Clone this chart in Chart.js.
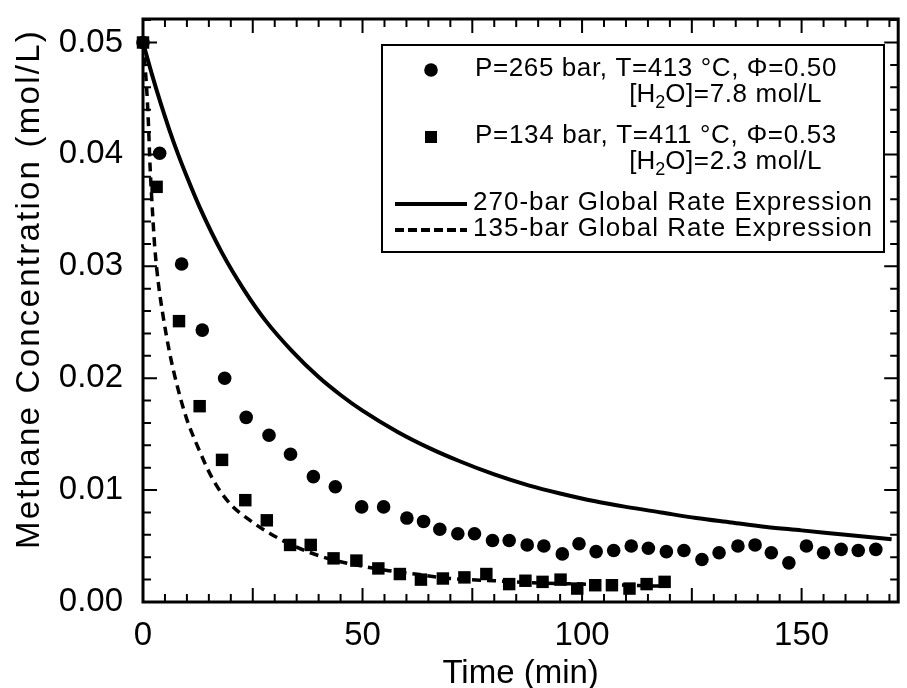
<!DOCTYPE html>
<html>
<head>
<meta charset="utf-8">
<script src="https://cdn.jsdelivr.net/npm/chart.js@4/dist/chart.umd.min.js"></script>
<style>
  html, body { margin: 0; padding: 0; background: #fff; }
  #wrap { width: 907px; height: 688px; }
</style>
</head>
<body>
<div id="wrap"><canvas id="methaneChart" width="907" height="688"></canvas></div>
<script>
// 265 bar run (circles)
const timeHigh = [0, 3.8, 8.8, 13.5, 18.6, 23.5, 28.7, 33.6, 38.8, 43.8, 49.8, 54.8, 60.1, 63.9, 67.6, 71.7, 75.5, 79.6, 83.4, 87.5,
  91.3, 95.5, 99.3, 103.2, 107.2, 111.2, 115.1, 119.2, 123.2, 127.3, 131.2, 135.5, 139.4, 143.1, 147.1, 151.1, 155.0, 159.0, 162.9, 166.9];
const concHigh = [0.0500, 0.0401, 0.0302, 0.0243, 0.0200, 0.0165, 0.0149, 0.0132, 0.0112, 0.0103, 0.0085, 0.0085, 0.0075, 0.0072, 0.0065, 0.0061, 0.0061, 0.0055, 0.0055, 0.0051,
  0.0050, 0.0043, 0.0052, 0.0045, 0.0046, 0.0050, 0.0048, 0.0045, 0.0046, 0.0038, 0.0044, 0.0050, 0.0051, 0.0044, 0.0035, 0.0050, 0.0044, 0.0047, 0.0046, 0.0047];

// 134 bar run (squares)
const timeLow = [0, 3.1, 8.2, 12.9, 18.0, 23.3, 28.2, 33.5, 38.2, 43.4, 48.6, 53.6, 58.5, 63.3, 68.3, 73.2, 78.2, 83.4, 87.1, 91.0,
  95.1, 98.9, 103.0, 106.8, 110.8, 114.7, 118.8];
const concLow = [0.0500, 0.0371, 0.0251, 0.0175, 0.0127, 0.0091, 0.0073, 0.0051, 0.0051, 0.0039, 0.0037, 0.0030, 0.0025, 0.0020, 0.0021, 0.0022, 0.0025, 0.0016, 0.0019, 0.0018,
  0.0020, 0.0012, 0.0015, 0.0015, 0.0012, 0.0016, 0.0018];

// 270-bar global rate expression (solid)
const rateHighTime = [0, 2, 4, 6, 8, 10, 13, 18, 23, 28, 34, 40, 45, 50, 58, 65, 72, 80, 88, 95, 103, 110, 118, 126, 134, 142, 150, 160, 170.5];
const rateHighConc = [0.0500, 0.0472, 0.0446, 0.0422, 0.0400, 0.0380, 0.0352, 0.0312, 0.0279, 0.0251, 0.0224, 0.0201, 0.0185, 0.0171, 0.0152, 0.0138, 0.0126, 0.0114, 0.0104, 0.0097,
  0.0090, 0.0085, 0.0080, 0.0075, 0.0071, 0.0067, 0.0064, 0.0060, 0.0056];

// 135-bar global rate expression (dashed)
const rateLowTime = [0, 0.8, 1.2, 1.6, 2.0, 2.7, 3.5, 4.6, 6.1, 8, 10, 12, 16, 20, 24, 29, 35, 42, 50, 56, 62, 70, 80, 90, 100, 110, 120];
const rateLowConc = [0.0500, 0.0461, 0.0431, 0.0390, 0.0360, 0.0316, 0.0285, 0.0255, 0.0222, 0.0190, 0.0163, 0.0143, 0.0109, 0.0087, 0.0074, 0.0061, 0.0049, 0.0039, 0.0032, 0.0028,
  0.0025, 0.0021, 0.0019, 0.0017, 0.0016, 0.0015, 0.0014];

const xTickValues = [0, 50, 100, 150];
const yTickValues = [0, 0.01, 0.02, 0.03, 0.04, 0.05];

const FONT = '"Liberation Sans", Arial, Helvetica, sans-serif';

function pairs(xs, ys) {
  return xs.map((x, i) => ({ x: x, y: ys[i] }));
}

// draw text stretched to a given width (the scanned font runs wide)
function fitText(ctx, text, x, y, width) {
  ctx.letterSpacing = '0px';
  const w = ctx.measureText(text).width;
  ctx.letterSpacing = ((width - w) / text.length) + 'px';
  ctx.fillText(text, x, y);
  ctx.letterSpacing = '0px';
}

// [H2O]=... line, right aligned at xr
function waterText(ctx, value, xr, y) {
  const big = '26px ' + FONT, small = '18px ' + FONT;
  const a = '[H', b = '2', c = 'O]=' + value + ' mol/L';
  ctx.font = big;
  const wa = ctx.measureText(a).width;
  const wc = ctx.measureText(c).width + c.length * 0.6;
  ctx.font = small;
  const wb = ctx.measureText(b).width;
  let x = xr - (wa + wb + wc);
  ctx.textAlign = 'left';
  ctx.font = big;
  ctx.fillText(a, x, y);
  x += wa;
  ctx.font = small;
  ctx.fillText(b, x, y + 8);
  x += wb;
  ctx.font = big;
  ctx.letterSpacing = '0.6px';
  ctx.fillText(c, x, y);
  ctx.letterSpacing = '0px';
}

const framePlugin = {
  id: 'frame',
  afterDraw(chart) {
    const { ctx, chartArea: a, scales: { x, y } } = chart;
    ctx.save();
    ctx.strokeStyle = '#000';
    ctx.fillStyle = '#000';

    // inward ticks on all four sides
    ctx.lineWidth = 2;
    ctx.beginPath();
    for (let m = 0; m <= x.max; m += 5) {
      const px = x.getPixelForValue(m);
      const len = m % 25 === 0 ? 14 : 8;
      ctx.moveTo(px, a.bottom); ctx.lineTo(px, a.bottom - len);
      ctx.moveTo(px, a.top); ctx.lineTo(px, a.top + len);
    }
    for (let i = 0; i * 0.002 <= y.max; i++) {
      const py = y.getPixelForValue(i * 0.002);
      const len = i % 5 === 0 ? 14 : 8;
      ctx.moveTo(a.left, py); ctx.lineTo(a.left + len, py);
      ctx.moveTo(a.right, py); ctx.lineTo(a.right - len, py);
    }
    ctx.stroke();

    ctx.lineWidth = 3;
    ctx.strokeRect(a.left, a.top, a.right - a.left, a.bottom - a.top);

    // y axis title
    ctx.save();
    ctx.translate(30, 289);
    ctx.rotate(-Math.PI / 2);
    ctx.font = '33px ' + FONT;
    ctx.textAlign = 'center';
    ctx.textBaseline = 'middle';
    fitText(ctx, 'Methane Concentration (mol/L)', 0, 0, 520);
    ctx.restore();

    // legend box
    const bx = 382, by = 45, bw = 502, bh = 207;
    ctx.fillStyle = '#fff';
    ctx.fillRect(bx, by, bw, bh);
    ctx.fillStyle = '#000';
    ctx.lineWidth = 2;
    ctx.strokeRect(bx, by, bw, bh);

    ctx.beginPath();
    ctx.arc(431, 70, 6.8, 0, Math.PI * 2);
    ctx.fill();
    ctx.fillRect(425, 131, 12, 12);

    ctx.lineWidth = 4;
    ctx.beginPath();
    ctx.moveTo(395, 204); ctx.lineTo(467, 204);
    ctx.stroke();
    ctx.setLineDash([9, 4]);
    ctx.beginPath();
    ctx.moveTo(395, 230); ctx.lineTo(467, 230);
    ctx.stroke();
    ctx.setLineDash([]);

    ctx.font = '26px ' + FONT;
    ctx.textBaseline = 'middle';
    ctx.textAlign = 'left';
    fitText(ctx, 'P=265 bar, T=413 \u00B0C, \u03A6=0.50', 475, 69, 362);
    waterText(ctx, '7.8', 822, 95);
    fitText(ctx, 'P=134 bar, T=411 \u00B0C, \u03A6=0.53', 475, 136, 362);
    waterText(ctx, '2.3', 822, 162);
    ctx.font = '26px ' + FONT;
    fitText(ctx, '270-bar Global Rate Expression', 473, 203, 400);
    fitText(ctx, '135-bar Global Rate Expression', 473, 229, 400);

    ctx.restore();
  }
};

new Chart(document.getElementById('methaneChart'), {
  type: 'scatter',
  data: {
    datasets: [
      {
        label: '270-bar Global Rate Expression',
        data: pairs(rateHighTime, rateHighConc),
        showLine: true,
        borderColor: '#000',
        borderWidth: 4,
        pointRadius: 0,
        cubicInterpolationMode: 'monotone'
      },
      {
        label: '135-bar Global Rate Expression',
        data: pairs(rateLowTime, rateLowConc),
        showLine: true,
        borderColor: '#000',
        borderWidth: 3.5,
        borderDash: [9, 6],
        pointRadius: 0,
        cubicInterpolationMode: 'monotone'
      },
      {
        label: 'P=265 bar',
        data: pairs(timeHigh, concHigh),
        pointStyle: 'circle',
        pointRadius: 6.8,
        backgroundColor: '#000',
        borderWidth: 0,
        clip: false
      },
      {
        label: 'P=134 bar',
        data: pairs(timeLow, concLow),
        pointStyle: 'rect',
        pointRadius: 8.8,
        backgroundColor: '#000',
        borderWidth: 0,
        clip: false
      }
    ]
  },
  options: {
    responsive: false,
    animation: false,
    devicePixelRatio: 1,
    layout: { padding: { top: 19, right: 4, left: 0, bottom: 0 } },
    scales: {
      x: {
        type: 'linear',
        min: 0,
        max: 172,
        afterFit: (s) => { s.height = 86; s.paddingLeft = 0; s.paddingRight = 0; },
        afterBuildTicks: (s) => { s.ticks = xTickValues.map(v => ({ value: v })); },
        grid: { display: false, drawTicks: false },
        border: { display: false },
        ticks: {
          color: '#000',
          padding: 14,
          maxRotation: 0,
          font: { family: FONT, size: 33 }
        },
        title: {
          display: true,
          text: 'Time (min)',
          color: '#000',
          padding: { top: 0, bottom: -6 },
          font: { family: FONT, size: 33 }
        }
      },
      y: {
        type: 'linear',
        min: 0,
        max: 0.0521,
        afterFit: (s) => { s.width = 143; s.paddingTop = 0; s.paddingBottom = 0; },
        afterBuildTicks: (s) => { s.ticks = yTickValues.map(v => ({ value: v })); },
        grid: { display: false, drawTicks: false },
        border: { display: false },
        ticks: {
          color: '#000',
          padding: 20,
          font: { family: FONT, size: 33 },
          callback: (v) => Number(v).toFixed(2)
        }
      }
    },
    plugins: {
      legend: { display: false },
      tooltip: { enabled: false }
    }
  },
  plugins: [framePlugin]
});
</script>
</body>
</html>
